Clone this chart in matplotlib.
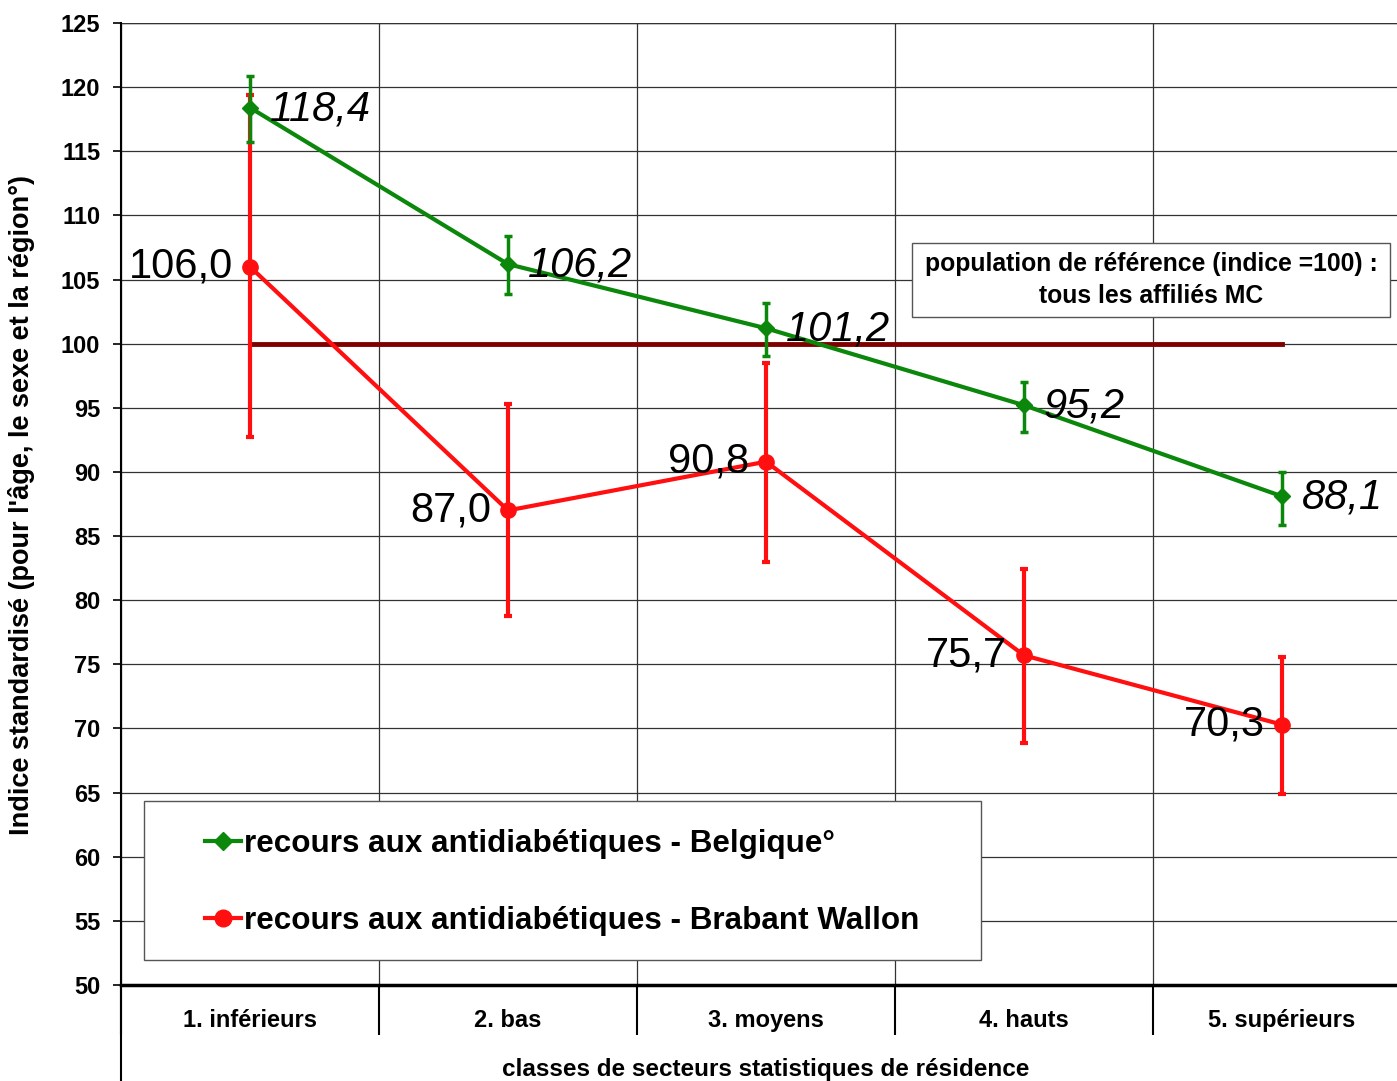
import matplotlib.pyplot as plt
import matplotlib.transforms as mtransforms
from matplotlib.patches import Rectangle
from matplotlib.lines import Line2D

# classes de secteurs statistiques
categories = ["1. inférieurs", "2. bas", "3. moyens", "4. hauts", "5. supérieurs"]

belgique = [118.4, 106.2, 101.2, 95.2, 88.1]
belgique_low = [115.7, 103.9, 99.0, 93.1, 85.9]
belgique_high = [120.9, 108.4, 103.2, 97.0, 90.0]

bw = [106.0, 87.0, 90.8, 75.7, 70.3]
bw_low = [92.7, 78.8, 83.0, 68.9, 64.9]
bw_high = [119.4, 95.3, 98.5, 82.4, 75.6]

reference = 100
yticks = list(range(50, 130, 5))

GREEN = "#0b870b"
RED = "#ff0f0f"

plt.rcParams["font.family"] = ["Liberation Sans", "DejaVu Sans"]
plt.rcParams["font.weight"] = "bold"

fig = plt.figure(figsize=(13.97, 10.81), dpi=100)
W, H = 1397, 1081
ax = fig.add_axes([121 / W, 96 / H, 1290 / W, 962 / H])

x = list(range(len(categories)))

# ligne de reference
ax.plot([0, 4], [reference, reference], color="#800000", lw=3.5, zorder=3)

def err(vals, lo, hi):
    return [[v - l for v, l in zip(vals, lo)], [h - v for v, h in zip(vals, hi)]]

ax.errorbar(x, belgique, yerr=err(belgique, belgique_low, belgique_high),
            color=GREEN, lw=3, marker="D", ms=8, capsize=3, capthick=2.5,
            elinewidth=2.5, zorder=5)
ax.errorbar(x, bw, yerr=err(bw, bw_low, bw_high),
            color=RED, lw=3, marker="o", ms=11, capsize=3, capthick=3,
            elinewidth=3, zorder=4)

def fmt(v):
    return f"{v:.1f}".replace(".", ",")

for xi, v in zip(x, belgique):
    ax.annotate(fmt(v), (xi, v), xytext=(14, -1), textcoords="offset points",
                ha="left", va="center", fontsize=30, style="italic",
                fontweight="normal", zorder=6)
for xi, v in zip(x, bw):
    ax.annotate(fmt(v), (xi, v), xytext=(-12, 0), textcoords="offset points",
                ha="right", va="center", fontsize=30, fontweight="normal", zorder=6)

ax.set_xlim(-0.5, 4.5)
ax.set_ylim(50, 125)
ax.set_yticks(yticks)
ax.tick_params(axis="y", labelsize=17, length=6, width=1.2, pad=9)

ax.set_xticks(x)
ax.set_xticklabels(categories)
ax.tick_params(axis="x", which="major", length=0, labelsize=17, pad=17)
ax.set_xticks([i - 0.5 for i in range(6)], minor=True)
ax.tick_params(axis="x", which="minor", length=36, width=1.5, direction="out")

ax.grid(axis="y", color="#333333", lw=0.9)
ax.grid(axis="x", which="minor", color="#333333", lw=0.9)
ax.set_axisbelow(True)

for side in ["top", "right"]:
    ax.spines[side].set_visible(False)
ax.axhline(125, color="#333333", lw=1)
ax.spines["bottom"].set_linewidth(2.5)
ax.spines["left"].set_linewidth(1.5)
ax.plot([0, 0], [0, -0.1], transform=ax.transAxes, color="black", lw=1.5, clip_on=False)

trans = mtransforms.blended_transform_factory(ax.transData, ax.transAxes)
ax.text(2, -0.088, "classes de secteurs statistiques de résidence", transform=trans,
        ha="center", va="center", fontsize=17.5)

fig.text(22 / W, 1 - 505 / H, "Indice standardisé (pour l'âge, le sexe et la région°)",
         rotation=90, ha="center", va="center", fontsize=19.5)

# encadre population de reference
ax.add_patch(Rectangle(((912 - 121) / 1290, (985 - 317) / 962),
                       (1390 - 912) / 1290, 74 / 962, transform=ax.transAxes,
                       facecolor="white", edgecolor="#555555", lw=1, zorder=7,
                       clip_on=False))
ax.text((1151 - 121) / 1290, (985 - 280) / 962,
        "population de référence (indice =100) :\ntous les affiliés MC",
        transform=ax.transAxes, ha="center", va="center", fontsize=17.8,
        linespacing=1.4, zorder=8)

# legende
ax.add_patch(Rectangle(((144 - 121) / 1290, (985 - 960) / 962), (981 - 144) / 1290,
                       159 / 962, transform=ax.transAxes, facecolor="white",
                       edgecolor="#555555", lw=1, zorder=7))
handles = [
    Line2D([], [], color=GREEN, lw=3, marker="D", ms=9),
    Line2D([], [], color=RED, lw=3, marker="o", ms=12),
]
labels = ["recours aux antidiabétiques - Belgique°",
          "recours aux antidiabétiques - Brabant Wallon"]
leg = ax.legend(handles, labels, loc="upper left",
                bbox_to_anchor=((205 - 121) / 1290, (985 - 829) / 962),
                frameon=False, fontsize=22.6, handlelength=1.15, handletextpad=0.1,
                labelspacing=1.5, borderpad=0, borderaxespad=0)
leg.set_zorder(8)

fig.savefig("out.png", dpi=100)
